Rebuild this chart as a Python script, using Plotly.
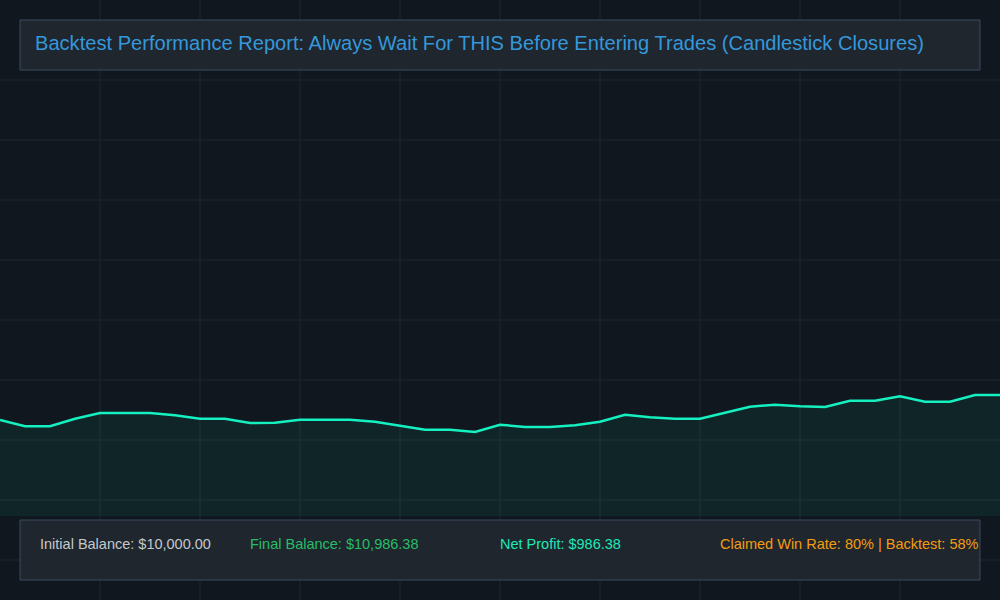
import plotly.graph_objects as go

# ---- data ----
trade_index = list(range(41))
equity = [10000, 9751, 9751, 10051, 10276, 10276, 10276, 10185, 10051, 10051,
          9882, 9893, 10012, 10012, 10012, 9933, 9775, 9617, 9617, 9526,
          9815, 9724, 9724, 9791, 9933, 10209, 10107, 10051, 10051, 10276,
          10525, 10604, 10541, 10513, 10762, 10762, 10935, 10722, 10722, 10986.38,
          10986.38]

title_text = "Backtest Performance Report: Always Wait For THIS Before Entering Trades (Candlestick Closures)"
stat_labels = ["Initial Balance: $10,000.00", "Final Balance: $10,986.38",
               "Net Profit: $986.38", "Claimed Win Rate: 80% | Backtest: 58%"]
stat_colors = ["#c3c8cd", "#27bd68", "#1de9b6", "#f39c12"]
stat_x_px = [38, 248, 498, 718]

W, H = 1000, 600
BG = "#10171e"
GRID = "#1c2830"
FONT = "Liberation Sans, Arial, Helvetica, sans-serif"

fig = go.Figure()
fig.add_trace(go.Scatter(
    x=trade_index, y=equity, mode="lines",
    line=dict(color="#14f0c0", width=2.5),
    fill="tozeroy", fillcolor="rgba(29,233,182,0.07)",
    hoverinfo="skip", showlegend=False,
))

shapes = []
# background grid (decorative, full canvas)
for px in range(100, 1000, 100):
    shapes.append(dict(type="line", xref="paper", yref="paper",
                       x0=px / W, x1=px / W, y0=0, y1=1,
                       line=dict(color=GRID, width=1), layer="below"))
for py in range(80, 600, 60):
    shapes.append(dict(type="line", xref="paper", yref="paper",
                       x0=0, x1=1, y0=1 - py / H, y1=1 - py / H,
                       line=dict(color=GRID, width=1), layer="below"))
# title box
shapes.append(dict(type="rect", xref="paper", yref="paper",
                   x0=20 / W, x1=980 / W, y0=1 - 70 / H, y1=1 - 20 / H,
                   fillcolor="#1f262e", line=dict(color="#3a4b5e", width=1), layer="above"))
# stats box
shapes.append(dict(type="rect", xref="paper", yref="paper",
                   x0=20 / W, x1=980 / W, y0=1 - 580 / H, y1=1 - 520 / H,
                   fillcolor="#1f262e", line=dict(color="#3a4b5e", width=1), layer="above"))

annotations = [dict(text=title_text, xref="paper", yref="paper",
                    x=33 / W, y=1 - 43 / H, xanchor="left", yanchor="middle",
                    showarrow=False, font=dict(family=FONT, size=20.1, color="#3498db"))]
for lbl, col, px in zip(stat_labels, stat_colors, stat_x_px):
    annotations.append(dict(text=lbl, xref="paper", yref="paper",
                            x=px / W, y=1 - 544 / H, xanchor="left", yanchor="middle",
                            showarrow=False, font=dict(family=FONT, size=14.5, color=col)))

fig.update_layout(
    width=W, height=H,
    margin=dict(l=0, r=0, t=0, b=0),
    paper_bgcolor=BG, plot_bgcolor="rgba(0,0,0,0)",
    xaxis=dict(range=[0, 40], domain=[0, 1], showgrid=False, zeroline=False,
               showticklabels=False, showline=False, fixedrange=True),
    yaxis=dict(range=[6212, 26573], domain=[84 / H, 1], showgrid=False, zeroline=False,
               showticklabels=False, showline=False, fixedrange=True),
    shapes=shapes, annotations=annotations,
    showlegend=False,
)

fig.write_html("out.html", config={"displayModeBar": False},
               post_script="document.body.style.margin='0';document.body.style.overflow='hidden';document.body.style.background='" + BG + "';")
